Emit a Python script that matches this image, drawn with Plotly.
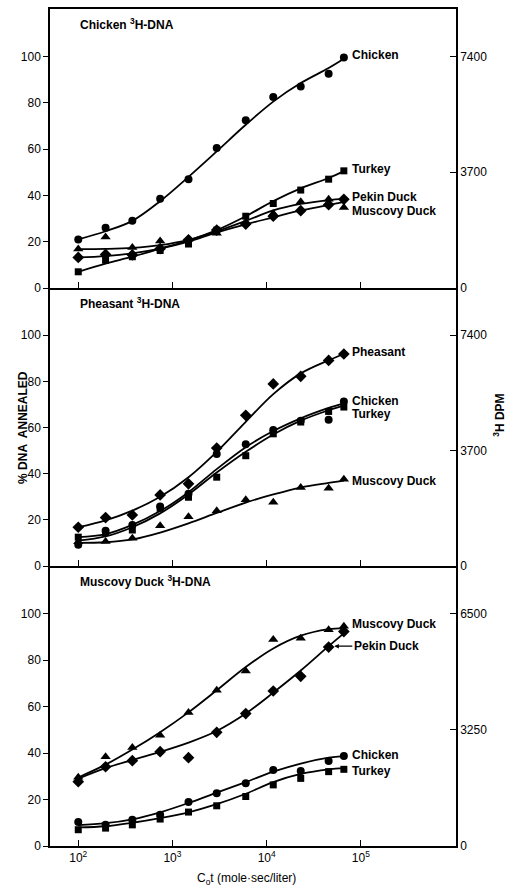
import numpy as np
import plotly.graph_objects as go

# ---------------- data ----------------
cot = [100, 195, 375, 740, 1480, 2950, 6000, 11750, 23000, 45500, 66000]

panel_titles = ["Chicken <sup>3</sup>H-DNA", "Pheasant <sup>3</sup>H-DNA", "Muscovy Duck <sup>3</sup>H-DNA"]

# Panel 1 : Chicken 3H-DNA
p1_chicken = [21, 26, 29, 38.5, 47, 60.5, 72.5, 82.5, 87, 92.5, 99.5]
p1_turkey = [7, 12, 13.5, 16.2, 19, 25, 31, 36.5, 42.3, 47, 50.6]
p1_pekin = [13.2, 14.5, 14.3, 17, 20.8, 25, 27.6, 31, 33.4, 36, 38.3]
p1_muscovy = [16.8, 22, 17.5, 20.3, 21.2, 23.6, 28.2, 32.2, 37.2, 38.3, 34.8]
p1_chicken_fit = [21, 24.5, 29, 37.5, 48, 59, 70.5, 80.5, 88.5, 95, 99]
p1_turkey_fit = [7, 10.5, 13.5, 17, 20.5, 25, 31, 37.5, 43, 47.5, 50.5]
p1_pekin_fit = [13.2, 13.8, 15, 17, 20, 24, 27.5, 30.5, 33.5, 35.8, 37.2]
p1_muscovy_fit = [16.8, 16.9, 17.3, 18.5, 20.8, 24.5, 29, 33.5, 36.3, 38, 38.5]

# Panel 2 : Pheasant 3H-DNA
p2_pheasant = [16.8, 21, 22.1, 30.8, 35.6, 51.1, 65.3, 78.9, 82.2, 89.1, 91.9]
p2_chicken = [9.2, 15.3, 17.8, 25.8, 31.3, 48.6, 52.8, 59, 63, 63.4, 71.3]
p2_turkey = [12.5, 14.5, 15.6, 25, 29.8, 38.5, 47.8, 57.3, 62.4, 67, 68.9]
p2_muscovy = [10.5, 10.6, 12, 17.4, 21.4, 23.9, 28.7, 27.6, 34, 33.7, 37.6]
p2_pheasant_fit = [16.8, 19.8, 24, 30, 38.5, 49.5, 62.5, 74.5, 83.5, 89.2, 91.9]
p2_chicken_fit = [12.5, 13.8, 17.8, 23.8, 32, 42, 51.5, 58.5, 64, 68.5, 70.5]
p2_turkey_fit = [11, 12.8, 16.8, 22.8, 31, 40.5, 49.5, 57, 63, 67.5, 69.5]
p2_muscovy_fit = [10, 10.3, 11.5, 14.5, 18.5, 23, 27.5, 31, 34, 36, 37]

# Panel 3 : Muscovy Duck 3H-DNA
p3_muscovy = [29.6, 38.4, 42.4, 47.7, 57.4, 67, 75.3, 88.9, 89.4, 93.1, 94.6]
p3_pekin = [27.7, 34.1, 36.7, 40.6, 38, 48.9, 57, 66.7, 73, 85.6, 92.3]
p3_chicken = [10.3, 9.1, 11.3, 13.4, 18.9, 22.7, 27, 32.7, 32.3, 36.6, 38.7]
p3_turkey = [7, 7.7, 9.1, 11.6, 14.6, 17.3, 21.3, 26.3, 29.1, 32, 33]
p3_muscovy_fit = [29.5, 35, 41.5, 49, 57.5, 67, 77, 85, 90.5, 93.3, 93.8]
p3_pekin_fit = [29, 33.5, 37, 40.5, 44.5, 49.5, 57, 66, 75.5, 86, 91.5]
p3_chicken_fit = [9, 9.8, 11.5, 14.5, 18.5, 23, 27.5, 32, 35.5, 38, 38.7]
p3_turkey_fit = [8, 8.5, 10, 12, 14.5, 18, 22.5, 27.5, 31, 33, 33.5]

left_ticks = [0, 20, 40, 60, 80, 100]
right_ticks = [[0, 3700, 7400], [0, 3700, 7400], [0, 3250, 6500]]
dpm_per_percent = [74, 74, 65]
x_ticks = [100, 1000, 10000, 100000]
x_ticktext = ["10<sup>2</sup>", "10<sup>3</sup>", "10<sup>4</sup>", "10<sup>5</sup>"]

panels = [
    [("Chicken", p1_chicken, p1_chicken_fit, "circle"),
     ("Turkey", p1_turkey, p1_turkey_fit, "square"),
     ("Pekin Duck", p1_pekin, p1_pekin_fit, "diamond"),
     ("Muscovy Duck", p1_muscovy, p1_muscovy_fit, "triangle-up")],
    [("Pheasant", p2_pheasant, p2_pheasant_fit, "diamond"),
     ("Chicken", p2_chicken, p2_chicken_fit, "circle"),
     ("Turkey", p2_turkey, p2_turkey_fit, "square"),
     ("Muscovy Duck", p2_muscovy, p2_muscovy_fit, "triangle-up")],
    [("Muscovy Duck", p3_muscovy, p3_muscovy_fit, "triangle-up"),
     ("Pekin Duck", p3_pekin, p3_pekin_fit, "diamond"),
     ("Chicken", p3_chicken, p3_chicken_fit, "circle"),
     ("Turkey", p3_turkey, p3_turkey_fit, "square")],
]
# label y positions (in % annealed) for the curve names
label_y = [[100.5, 51.6, 39.4, 33.4], [92.6, 71.4, 65.9, 36.8], [95.6, 86.0, 39.0, 32.3]]

# ---------------- figure ----------------
W, H = 512, 886
ML, MR, MT, MB = 50, 56, 9, 40
ymax = 120.5
xrange_log = [1.70, 6.01]
FONT = "Liberation Sans"
marker_size = {"circle": 8, "square": 7, "diamond": 9, "triangle-up": 9}

fig = go.Figure()
bounds_px = [(9, 288), (288, 566), (566, 846)]
plot_h = H - MT - MB
domains = [[(H - MB - b) / plot_h, (H - MB - t) / plot_h] for (t, b) in bounds_px]

for i, series in enumerate(panels):
    xa = "x" if i == 0 else f"x{i+1}"
    ya = "y" if i == 0 else f"y{i+1}"
    for name, vals, fit, sym in series:
        fig.add_trace(go.Scatter(x=cot, y=fit, mode="lines",
                                 line=dict(color="black", width=1.8, shape="spline", smoothing=1.0),
                                 xaxis=xa, yaxis=ya, showlegend=False, hoverinfo="skip"))
        fig.add_trace(go.Scatter(x=cot, y=vals, mode="markers",
                                 marker=dict(symbol=sym, color="black", size=marker_size[sym]),
                                 xaxis=xa, yaxis=ya, showlegend=False, name=name))
    fig.add_trace(go.Scatter(x=[cot[0]], y=[0], mode="markers", marker=dict(opacity=0), xaxis=xa,
                             yaxis=f"y{i+4}", showlegend=False, hoverinfo="skip"))

axis_common = dict(showgrid=False, zeroline=False, showline=True, linecolor="black", linewidth=1.5,
                   automargin=False)
for i in range(3):
    xkey = "xaxis" if i == 0 else f"xaxis{i+1}"
    ykey = "yaxis" if i == 0 else f"yaxis{i+1}"
    yname = "y" if i == 0 else f"y{i+1}"
    xname = "x" if i == 0 else f"x{i+1}"
    xdict = dict(type="log", range=xrange_log, domain=[0, 1], anchor=yname,
                 tickvals=x_ticks, ticktext=x_ticktext, ticks="inside", ticklen=6, tickwidth=1.3,
                 tickcolor="black", showticklabels=(i == 2), mirror=(i == 0),
                 tickfont=dict(family=FONT, size=12, color="black"), **axis_common)
    if i > 0:
        xdict["matches"] = "x"
    fig.layout[xkey] = xdict
    fig.layout[ykey] = dict(range=[0, ymax], domain=domains[i], anchor=xname,
                            tickvals=left_ticks, ticks="outside", ticklen=5, tickwidth=1.3, tickcolor="black",
                            tickfont=dict(family=FONT, size=12, color="black"), **axis_common)
    fig.layout[f"yaxis{i+4}"] = dict(range=[0, ymax * dpm_per_percent[i]], domain=domains[i], overlaying=yname,
                                     side="right", anchor=xname,
                                     tickvals=right_ticks[i], ticks="inside", ticklen=6, tickwidth=1.3,
                                     tickcolor="black", tickfont=dict(family=FONT, size=12, color="black"),
                                     **axis_common)

annotations = []
for i, series in enumerate(panels):
    xr = "x" if i == 0 else f"x{i+1}"
    yr = "y" if i == 0 else f"y{i+1}"
    annotations.append(dict(x=np.log10(cot[0]), y=ymax * 0.945, xref=xr, yref=yr, text=panel_titles[i],
                            showarrow=False, xanchor="left", yanchor="middle",
                            font=dict(family=FONT, size=12, color="black", weight="bold")))
    for j, (name, vals, fit, sym) in enumerate(series):
        if i == 2 and name == "Pekin Duck":
            annotations.append(dict(x=np.log10(cot[-2]) + 0.06, y=label_y[i][j], xref=xr, yref=yr, text=name,
                                    showarrow=True, arrowhead=2, arrowsize=0.7, arrowwidth=1.3, arrowcolor="black",
                                    ax=18, ay=0, xanchor="left", yanchor="middle",
                                    font=dict(family=FONT, size=12, color="black", weight="bold")))
        else:
            annotations.append(dict(x=np.log10(cot[-1]), y=label_y[i][j], xref=xr, yref=yr, text=name,
                                    showarrow=False, xanchor="left", yanchor="middle", xshift=6,
                                    font=dict(family=FONT, size=12, color="black", weight="bold")))

annotations.append(dict(x=-0.09, y=0.5, xref="paper", yref="paper", text="% DNA  ANNEALED", textangle=-90,
                        showarrow=False, font=dict(family=FONT, size=12, color="black", weight="bold")))
annotations.append(dict(x=1.13, y=0.515, xref="paper", yref="paper", text="<sup>3</sup>H DPM", textangle=-90,
                        showarrow=False, font=dict(family=FONT, size=12, color="black", weight="bold")))
annotations.append(dict(x=0.485, y=-0.04, xref="paper", yref="paper", text="C<sub>o</sub>t (mole·sec/liter)",
                        showarrow=False, yanchor="middle", font=dict(family=FONT, size=12, color="black")))

fig.update_layout(width=W, height=H, margin=dict(l=ML, r=MR, t=MT, b=MB, autoexpand=False),
                  plot_bgcolor="white", paper_bgcolor="white", annotations=annotations, showlegend=False)
fig.write_html("out.html", config={"displayModeBar": False},
               post_script="document.body.style.margin='0';document.body.style.overflow='hidden';")
